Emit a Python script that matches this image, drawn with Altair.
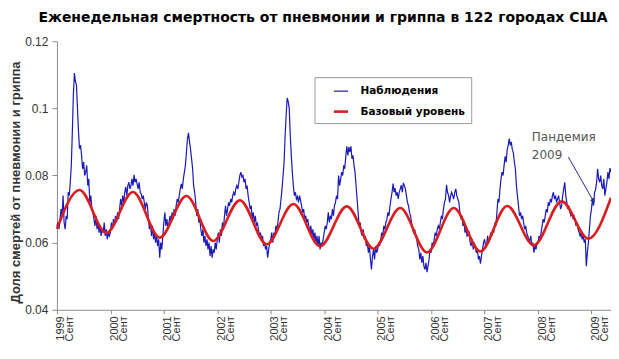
import json
import altair as alt
import pandas as pd

# ---------------- data ----------------
title_text = "Еженедельная смертность от пневмонии и гриппа в 122 городах США"
y_title = "Доля смертей от пневмонии и гриппа"
series_obs = "Наблюдения"
series_base = "Базовый уровень"
years = ["1999", "2000", "2001", "2002", "2003", "2004", "2005", "2006", "2007", "2008", "2009"]
month_label = "Сент"
y_ticks = [0.04, 0.05, 0.06, 0.07, 0.08, 0.09, 0.10, 0.11, 0.12]

# weekly observed share, one list per season (Sept -> Sept)
obs_1999 = [0.065, 0.066, 0.064, 0.067, 0.070, 0.068, 0.074, 0.066, 0.064, 0.068,
            0.067, 0.075, 0.074, 0.078, 0.083, 0.093, 0.104, 0.1105, 0.108, 0.107,
            0.100, 0.093, 0.088, 0.089, 0.086, 0.082, 0.084, 0.080, 0.081, 0.083,
            0.077, 0.079, 0.072, 0.074, 0.070, 0.069, 0.067, 0.065, 0.068, 0.064,
            0.066, 0.063, 0.065, 0.062, 0.064, 0.063, 0.066, 0.062, 0.064, 0.061,
            0.063, 0.062]
obs_2000 = [0.063, 0.066, 0.064, 0.067, 0.065, 0.068, 0.066, 0.069, 0.067, 0.070,
            0.073, 0.071, 0.074, 0.072, 0.075, 0.0766, 0.074, 0.077, 0.078, 0.076,
            0.077, 0.079, 0.077, 0.0802, 0.078, 0.079, 0.0775, 0.076, 0.078, 0.075,
            0.0745, 0.073, 0.074, 0.072, 0.070, 0.072, 0.071, 0.067, 0.064, 0.066,
            0.062, 0.065, 0.061, 0.063, 0.060, 0.062, 0.059, 0.061, 0.0555, 0.060,
            0.058, 0.062]
obs_2001 = [0.066, 0.069, 0.065, 0.067, 0.064, 0.066, 0.068, 0.066, 0.069, 0.067,
            0.070, 0.068, 0.071, 0.073, 0.072, 0.074, 0.076, 0.0775, 0.076, 0.079,
            0.081, 0.083, 0.087, 0.091, 0.0927, 0.090, 0.0877, 0.085, 0.082, 0.077,
            0.075, 0.072, 0.068, 0.070, 0.066, 0.067, 0.064, 0.062, 0.064, 0.060,
            0.062, 0.059, 0.061, 0.058, 0.060, 0.056, 0.059, 0.0555, 0.058, 0.057,
            0.060, 0.058]
obs_2002 = [0.061, 0.063, 0.060, 0.064, 0.062, 0.066, 0.064, 0.068, 0.071, 0.068,
            0.070, 0.072, 0.071, 0.073, 0.072, 0.074, 0.075, 0.074, 0.076, 0.077,
            0.076, 0.078, 0.080, 0.081, 0.0795, 0.080, 0.078, 0.079, 0.076, 0.077,
            0.074, 0.072, 0.070, 0.071, 0.067, 0.069, 0.066, 0.068, 0.065, 0.066,
            0.064, 0.062, 0.063, 0.061, 0.062, 0.059, 0.060, 0.058, 0.059, 0.0555,
            0.058, 0.060]
obs_2003 = [0.061, 0.063, 0.060, 0.063, 0.062, 0.065, 0.064, 0.066, 0.069, 0.070,
            0.073, 0.076, 0.080, 0.084, 0.092, 0.098, 0.1031, 0.102, 0.100, 0.092,
            0.086, 0.081, 0.077, 0.074, 0.075, 0.073, 0.0737, 0.072, 0.074, 0.0726,
            0.071, 0.069, 0.070, 0.067, 0.068, 0.066, 0.067, 0.065, 0.063, 0.065,
            0.062, 0.064, 0.061, 0.063, 0.060, 0.062, 0.059, 0.062, 0.058, 0.060,
            0.059, 0.061]
obs_2004 = [0.063, 0.065, 0.064, 0.066, 0.069, 0.066, 0.068, 0.067, 0.070, 0.068,
            0.071, 0.072, 0.074, 0.073, 0.080, 0.077, 0.079, 0.081, 0.080, 0.083,
            0.082, 0.0857, 0.0887, 0.086, 0.0885, 0.087, 0.0887, 0.085, 0.086, 0.083,
            0.081, 0.077, 0.073, 0.069, 0.065, 0.066, 0.063, 0.062, 0.064, 0.061,
            0.062, 0.059, 0.060, 0.057, 0.059, 0.055, 0.052, 0.056, 0.058, 0.055,
            0.059, 0.057]
obs_2005 = [0.058, 0.060, 0.059, 0.061, 0.063, 0.062, 0.065, 0.064, 0.066, 0.067,
            0.069, 0.068, 0.071, 0.073, 0.075, 0.0776, 0.075, 0.0762, 0.074, 0.075,
            0.073, 0.075, 0.076, 0.0771, 0.075, 0.0778, 0.077, 0.076, 0.074, 0.072,
            0.071, 0.069, 0.068, 0.066, 0.064, 0.063, 0.064, 0.062, 0.061, 0.059,
            0.058, 0.055, 0.057, 0.054, 0.056, 0.053, 0.052, 0.054, 0.0512, 0.053,
            0.055, 0.058]
obs_2006 = [0.057, 0.060, 0.059, 0.061, 0.063, 0.062, 0.064, 0.065, 0.064, 0.066,
            0.068, 0.067, 0.070, 0.072, 0.073, 0.0772, 0.075, 0.074, 0.072, 0.074,
            0.075, 0.074, 0.073, 0.075, 0.076, 0.074, 0.073, 0.072, 0.069, 0.067,
            0.068, 0.065, 0.066, 0.063, 0.064, 0.062, 0.0625, 0.063, 0.060, 0.059,
            0.061, 0.058, 0.060, 0.0585, 0.057, 0.058, 0.055, 0.056, 0.0537, 0.056,
            0.058, 0.060]
obs_2007 = [0.061, 0.059, 0.0595, 0.062, 0.060, 0.061, 0.063, 0.062, 0.064, 0.063,
            0.066, 0.065, 0.069, 0.073, 0.072, 0.076, 0.079, 0.081, 0.080, 0.083,
            0.0857, 0.084, 0.0877, 0.089, 0.091, 0.089, 0.090, 0.0877, 0.0868, 0.084,
            0.082, 0.077, 0.074, 0.071, 0.068, 0.069, 0.067, 0.068, 0.066, 0.064,
            0.065, 0.063, 0.062, 0.061, 0.0605, 0.062, 0.059, 0.060, 0.057, 0.059,
            0.058, 0.060]
obs_2008 = [0.060, 0.062, 0.061, 0.063, 0.065, 0.067, 0.066, 0.068, 0.070, 0.069,
            0.072, 0.071, 0.073, 0.072, 0.074, 0.075, 0.073, 0.074, 0.072, 0.073,
            0.074, 0.072, 0.070, 0.071, 0.074, 0.076, 0.078, 0.074, 0.072, 0.070,
            0.071, 0.069, 0.068, 0.069, 0.067, 0.068, 0.067, 0.065, 0.066, 0.064,
            0.063, 0.062, 0.063, 0.061, 0.062, 0.060, 0.061, 0.053, 0.057, 0.060,
            0.064, 0.068]
obs_2009 = [0.070, 0.0732, 0.071, 0.075, 0.0758, 0.078, 0.082, 0.079, 0.078, 0.080,
            0.077, 0.076, 0.079, 0.074, 0.076, 0.078, 0.081, 0.079, 0.0822, 0.081]

# Serfling-type baseline: turning points (week index, value)
base_week = [0, 22, 48, 74, 100, 126, 152, 178, 204, 230, 256,
             282, 308, 334, 360, 386, 412, 438, 464, 491, 517, 539]
base_value = [0.0641, 0.0757, 0.0629, 0.0751, 0.0615, 0.0739, 0.0605, 0.0726, 0.0595, 0.0715, 0.0589,
              0.0708, 0.0582, 0.0703, 0.0571, 0.0703, 0.0574, 0.0709, 0.0592, 0.0723, 0.0612, 0.0734]

# annotation "Пандемия 2009"
note_text = "Пандемия\n2009"
note_week = [462]
note_value = [0.0904]
arrow_week = [497.5, 521.5]
arrow_value = [0.0855, 0.0726]

# ---------------- tables ----------------
obs_all = (obs_1999 + obs_2000 + obs_2001 + obs_2002 + obs_2003 + obs_2004 +
           obs_2005 + obs_2006 + obs_2007 + obs_2008 + obs_2009)
obs_df = pd.DataFrame({"week": list(range(len(obs_all))), "value": obs_all, "series": series_obs})
base_df = pd.DataFrame({"week": base_week, "value": base_value, "series": series_base})
note_df = pd.DataFrame({"week": note_week, "value": note_value, "label": [note_text]})
arrow_df = pd.DataFrame({"week": [arrow_week[0]], "value": [arrow_value[0]],
                         "week2": [arrow_week[1]], "value2": [arrow_value[1]]})
head_df = pd.DataFrame({"week": [arrow_week[1]], "value": [arrow_value[1]]})

BLUE = "#1a1ab8"
RED = "#d81e1e"
AXIS_GRAY = "#8c8c8c"

x_max = len(obs_all) - 1
x_scale = alt.Scale(domain=[0, x_max], nice=False, zero=False)
y_scale = alt.Scale(domain=[0.04, 0.12], nice=False, zero=False)

label_expr = "[" + json.dumps(years, ensure_ascii=False) + "[round(datum.value/52)], '" + month_label + "']"

x_axis = alt.Axis(values=[52 * i for i in range(len(years))], labelExpr=label_expr, title=None,
                  labelAngle=270, labelAlign="right", labelBaseline="middle", labelOffset=4,
                  labelFont="Liberation Sans", labelFontSize=11, labelLineHeight=9,
                  labelColor="#333333", labelPadding=2, tickSize=4, tickColor=AXIS_GRAY,
                  domainColor=AXIS_GRAY, grid=False, labelOverlap=False)
y_axis = alt.Axis(values=y_ticks, format=".2~f", title=y_title, grid=False,
                  labelFont="Liberation Sans", labelFontSize=12, labelColor="#333333",
                  labelPadding=4, tickSize=5, tickColor=AXIS_GRAY, domainColor=AXIS_GRAY,
                  titleFont="Liberation Sans", titleFontSize=13, titleFontWeight="bold",
                  titleColor="#333333", titleAngle=270, titleAlign="center",
                  titleBaseline="alphabetic", titleX=-37, titleY=141)

legend = alt.Legend(title=None, orient="none", legendX=258, legendY=36,
                    strokeColor="#9a9a9a", fillColor="white", padding=6,
                    symbolOffset=12, labelOffset=11, rowPadding=6,
                    labelFont="DejaVu Sans", labelFontWeight="bold", labelFontSize=10.5,
                    labelColor="black", symbolSize=200, symbolType="stroke")
color = alt.Color("series:N", scale=alt.Scale(domain=[series_obs, series_base], range=[BLUE, RED]),
                  legend=legend)
width_enc = alt.StrokeWidth("series:N", scale=alt.Scale(domain=[series_obs, series_base], range=[1.2, 2.6]),
                            legend=legend)

obs_line = alt.Chart(obs_df).mark_line(interpolate="linear").encode(
    x=alt.X("week:Q", scale=x_scale, axis=x_axis),
    y=alt.Y("value:Q", scale=y_scale, axis=y_axis),
    color=color, strokeWidth=width_enc,
)
base_line = alt.Chart(base_df).mark_line(interpolate="monotone").encode(
    x=alt.X("week:Q", scale=x_scale),
    y=alt.Y("value:Q", scale=y_scale),
    color=color, strokeWidth=width_enc,
)
note = alt.Chart(note_df).mark_text(align="left", baseline="alphabetic", lineBreak="\n", lineHeight=18,
                                    font="DejaVu Sans", fontSize=12, color="#555555").encode(
    x="week:Q", y="value:Q", text="label:N")
arrow = alt.Chart(arrow_df).mark_rule(color="#2a2a90", strokeWidth=1).encode(
    x="week:Q", y="value:Q", x2="week2:Q", y2="value2:Q")
head = alt.Chart(head_df).mark_point(shape="triangle", filled=True, size=28, angle=150,
                                     color="#2a2a90", opacity=1).encode(x="week:Q", y="value:Q")

chart = alt.layer(obs_line, base_line, arrow, head, note).properties(
    width=555, height=269,
    title=alt.Title(title_text, font="DejaVu Sans", fontSize=14, fontWeight="bold", color="black",
                    anchor="middle", dx=-11, offset=10, frame="group"),
    padding={"left": 49, "top": 33, "right": 0, "bottom": 40},
    autosize=alt.AutoSizeParams(type="none"),
).configure_view(stroke=None)

chart.save("out.html", embed_options={"renderer": "svg", "actions": False})
